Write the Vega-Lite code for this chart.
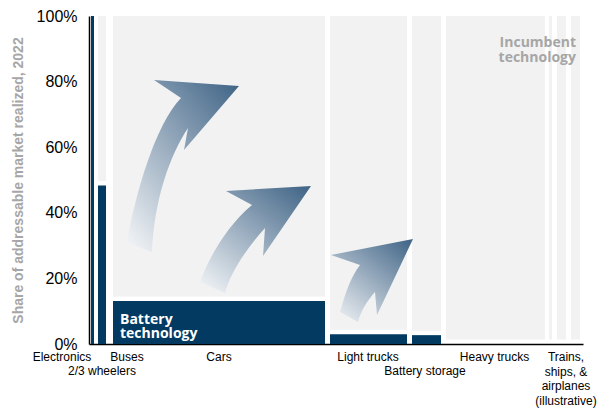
{
  "$schema": "https://vega.github.io/schema/vega-lite/v6.json",
  "width": 494,
  "height": 328,
  "autosize": "none",
  "padding": {"left": 89, "top": 16, "right": 17, "bottom": 65},
  "background": "white",
  "config": {"view": {"stroke": null}},
  "datasets": {
    "segments": [
      {"segment": "Electronics", "x0": 2, "x1": 5, "share": 100},
      {"segment": "2/3 wheelers", "x0": 9, "x1": 17, "share": 48.3},
      {"segment": "Cars", "x0": 24, "x1": 236, "share": 13.1},
      {"segment": "Light trucks", "x0": 241, "x1": 318, "share": 3.0},
      {"segment": "Battery storage", "x0": 323, "x1": 352, "share": 2.7},
      {"segment": "Heavy trucks", "x0": 357, "x1": 456, "share": 0},
      {"segment": "Trains", "x0": 460, "x1": 463, "share": 0},
      {"segment": "Ships", "x0": 468, "x1": 477, "share": 0},
      {"segment": "Airplanes", "x0": 482, "x1": 491, "share": 0}
    ],
    "arrows": [
      {"arrow": "a1", "x": 94, "y": 54.27},
      {"arrow": "a2", "x": 167, "y": 31.71},
      {"arrow": "a3", "x": 283, "y": 19.51}
    ],
    "notes": [
      {"note": "incumbent", "text": "Incumbent\ntechnology", "x": 487, "y": 91.9},
      {"note": "battery", "text": "Battery\ntechnology", "x": 31, "y": 7.32}
    ],
    "labels": [
      {"label": "Electronics", "x": -27, "row": 1},
      {"label": "Buses", "x": 38, "row": 1},
      {"label": "2/3 wheelers", "x": 13, "row": 2},
      {"label": "Cars", "x": 130, "row": 1},
      {"label": "Light trucks", "x": 279, "row": 1},
      {"label": "Battery storage", "x": 336, "row": 2},
      {"label": "Heavy trucks", "x": 405.5, "row": 1},
      {"label": "Trains,\nships, &\nairplanes\n(illustrative)", "x": 477, "row": 1}
    ]
  },
  "layer": [
    {
      "data": {"name": "segments"},
      "transform": [{"filter": "datum.share < 100"}],
      "mark": {"type": "rect", "fill": "#f2f2f2", "yOffset": -4.5},
      "encoding": {
        "x": {"field": "x0", "type": "quantitative", "scale": {"domain": [0, 494], "nice": false, "zero": false},
          "axis": {"ticks": false, "labels": false, "grid": false, "domainColor": "black", "domainWidth": 1.5, "title": null}},
        "x2": {"field": "x1"},
        "y": {"field": "share", "type": "quantitative", "scale": {"domain": [0, 100], "nice": false},
          "axis": {"values": [0, 20, 40, 60, 80, 100], "labelExpr": "datum.value + '%'", "ticks": false, "grid": false,
            "domainColor": "black", "domainWidth": 1.5, "labelFont": "Liberation Sans", "labelFontSize": 16,
            "labelColor": "black", "labelPadding": 12,
            "title": "Share of addressable market realized, 2022", "titleFont": "Liberation Sans",
            "titleFontSize": 14, "titleFontWeight": "bold", "titleColor": "#a6a6a6", "titlePadding": 11}},
        "y2": {"datum": 100}
      }
    },
    {
      "data": {"name": "segments"},
      "transform": [{"filter": "datum.share > 0"}],
      "mark": {"type": "rect", "fill": "#023a62"},
      "encoding": {
        "x": {"field": "x0", "type": "quantitative", "scale": {"domain": [0, 494], "nice": false, "zero": false}},
        "x2": {"field": "x1"},
        "y": {"field": "share", "type": "quantitative", "scale": {"domain": [0, 100], "nice": false}},
        "y2": {"datum": 0}
      }
    },
    {
      "data": {"name": "arrows"},
      "mark": {
        "type": "point", "filled": true, "size": 4, "opacity": 1, "strokeWidth": 0,
        "fill": {"gradient": "linear", "x1": 0.1, "y1": 1, "x2": 0.9, "y2": 0,
          "stops": [{"offset": 0, "color": "#eef1f4"}, {"offset": 1, "color": "#46698a"}]}
      },
      "encoding": {
        "x": {"field": "x", "type": "quantitative", "scale": {"domain": [0, 494], "nice": false, "zero": false}},
        "y": {"field": "y", "type": "quantitative", "scale": {"domain": [0, 100], "nice": false}},
        "shape": {"field": "arrow", "type": "nominal", "legend": null,
          "scale": {"domain": ["a1", "a2", "a3"], "range": [
            "M -56 77 C -48 29 -28 -41 -2 -68 L -29 -86 L 56 -80 L 1 -16 L 5 -38 C -13 -11 -29 34 -31 86 Z",
            "M -56 42 C -46 15 -28 -15 -4 -35 L -30 -49 L 55 -54 L 7 16 L 9 -12 C -6 5 -24 28 -31 53 Z",
            "M -32 32 C -27 15 -22 -2 -12 -15 L -41 -25 L 41 -41 L 5 35 L 3 12 C -4 20 -11 30 -14 42 Z"
          ]}}
      }
    },
    {
      "data": {"name": "notes"},
      "transform": [{"filter": "datum.note === 'incumbent'"}],
      "mark": {"type": "text", "align": "right", "baseline": "middle", "font": "Open Sans", "fontWeight": "bold",
        "fontSize": 14, "fill": "#a6a6a6", "lineHeight": 15, "lineBreak": "\n"},
      "encoding": {
        "x": {"field": "x", "type": "quantitative", "scale": {"domain": [0, 494], "nice": false, "zero": false}},
        "y": {"field": "y", "type": "quantitative", "scale": {"domain": [0, 100], "nice": false}},
        "text": {"field": "text", "type": "nominal"}
      }
    },
    {
      "data": {"name": "notes"},
      "transform": [{"filter": "datum.note === 'battery'"}],
      "mark": {"type": "text", "align": "left", "baseline": "middle", "font": "Open Sans", "fontWeight": "bold",
        "fontSize": 14, "fill": "white", "lineHeight": 14, "lineBreak": "\n"},
      "encoding": {
        "x": {"field": "x", "type": "quantitative", "scale": {"domain": [0, 494], "nice": false, "zero": false}},
        "y": {"field": "y", "type": "quantitative", "scale": {"domain": [0, 100], "nice": false}},
        "text": {"field": "text", "type": "nominal"}
      }
    },
    {
      "data": {"name": "labels"},
      "transform": [{"filter": "datum.row === 1"}],
      "mark": {"type": "text", "align": "center", "baseline": "top", "font": "Liberation Sans", "fontSize": 12,
        "fill": "black", "dy": 8, "lineHeight": 14.5, "lineBreak": "\n"},
      "encoding": {
        "x": {"field": "x", "type": "quantitative", "scale": {"domain": [0, 494], "nice": false, "zero": false}},
        "y": {"datum": 0, "type": "quantitative", "scale": {"domain": [0, 100], "nice": false}},
        "text": {"field": "label", "type": "nominal"}
      }
    },
    {
      "data": {"name": "labels"},
      "transform": [{"filter": "datum.row === 2"}],
      "mark": {"type": "text", "align": "center", "baseline": "top", "font": "Liberation Sans", "fontSize": 12,
        "fill": "black", "dy": 22},
      "encoding": {
        "x": {"field": "x", "type": "quantitative", "scale": {"domain": [0, 494], "nice": false, "zero": false}},
        "y": {"datum": 0, "type": "quantitative", "scale": {"domain": [0, 100], "nice": false}},
        "text": {"field": "label", "type": "nominal"}
      }
    }
  ]
}
